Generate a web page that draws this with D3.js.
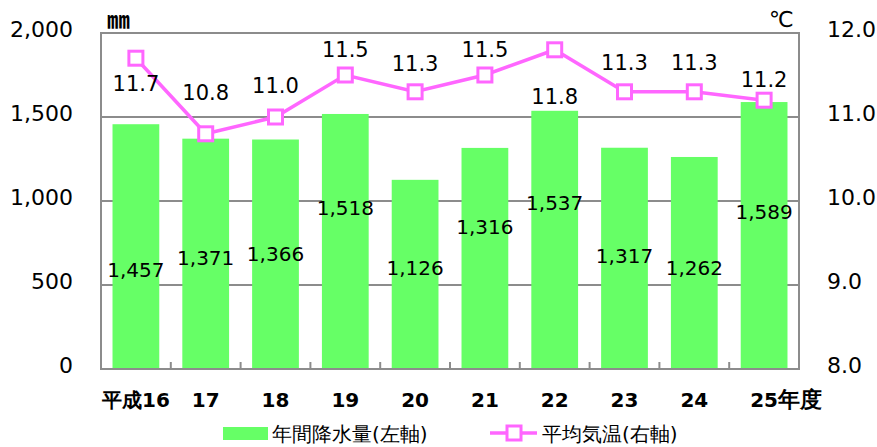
<!DOCTYPE html>
<html><head><meta charset="utf-8">
<script src="https://cdn.jsdelivr.net/npm/d3@7"></script>
<style>body{margin:0;background:#fff}svg{display:block}text{font-family:"DejaVu Sans",Verdana,sans-serif;fill:#000}</style>
</head><body><svg id="c" width="877" height="447"></svg>
<script>
const categories = ["平成16","17","18","19","20","21","22","23","24","25"];
const rainfall = [1457,1371,1366,1518,1126,1316,1537,1317,1262,1589];
const temperature = [11.7,10.8,11.0,11.5,11.3,11.5,11.8,11.3,11.3,11.2];
const leftTicks = [0,500,1000,1500,2000];
const rightTicks = [8.0,9.0,10.0,11.0,12.0];
// label anchor heights (in axis units)
const rainLabelAt = [589,661,684,958,601,845,988,673,601,935];
const tempLabelAt = [11.40,11.29,11.37,11.80,11.64,11.80,11.24,11.65,11.65,11.45];

const svg = d3.select("#c");
const L = 101, R = 799, T = 33, B = 369;
const x = d3.scaleBand().domain(categories).range([L, R]).paddingInner(0.33).paddingOuter(0.165);
const yL = d3.scaleLinear().domain([0,2000]).range([B, T]);
const yR = d3.scaleLinear().domain([8,12]).range([B, T]);
const fmt = d3.format(",");
const grey = "#8c8c8c";

// gridlines
svg.append("g").selectAll("line").data(leftTicks.slice(1,4)).join("line")
  .attr("x1", L).attr("x2", R).attr("y1", d=>yL(d)).attr("y2", d=>yL(d))
  .attr("stroke", grey).attr("stroke-width", 2);

// bars
svg.append("g").selectAll("rect").data(rainfall).join("rect")
  .attr("x", (d,i)=>x(categories[i])).attr("width", x.bandwidth())
  .attr("y", d=>yL(d)).attr("height", d=>B - yL(d)).attr("fill", "#66ff66");

// frame
svg.append("rect").attr("x", L).attr("y", T).attr("width", R-L).attr("height", B-T)
  .attr("fill","none").attr("stroke", grey).attr("stroke-width", 2);

// x axis tick marks between categories
const step = x.step();
svg.append("g").selectAll("line").data(categories.slice(1)).join("line")
  .attr("x1", d=>x(d) - x.paddingInner()*step/2).attr("x2", d=>x(d) - x.paddingInner()*step/2)
  .attr("y1", B).attr("y2", B-7).attr("stroke", grey).attr("stroke-width", 2);

// left axis
const axL = svg.append("g").attr("transform", `translate(${L},0)`)
  .call(d3.axisLeft(yL).tickValues(leftTicks).tickFormat(fmt).tickSize(0).tickPadding(28));
axL.select(".domain").remove();
axL.selectAll("text").style("font-size","22px").attr("dy","0.32em").attr("y",-4);

// right axis
const axR = svg.append("g").attr("transform", `translate(${R},0)`)
  .call(d3.axisRight(yR).tickValues(rightTicks).tickFormat(d3.format(".1f")).tickSize(0).tickPadding(28));
axR.select(".domain").remove();
axR.selectAll("text").style("font-size","22px").attr("dy","0.32em").attr("y",-4);

// category labels
svg.append("g").selectAll("text").data(categories).join("text")
  .attr("x", d=>x(d)+x.bandwidth()/2).attr("y", 407)
  .attr("text-anchor","middle").style("font-size","20px").style("font-weight","bold")
  .text(d=>d);
svg.append("text").attr("x", x("25")+x.bandwidth()/2+14).attr("y", 407)
  .style("font-size","22px").style("font-weight","bold").text("年度");

// units
svg.append("text").attr("x",107).attr("y",28).style("font-family","'Noto Sans CJK JP'").style("font-size","23px").style("font-weight","bold").text("㎜");
svg.append("text").attr("x",769).attr("y",27).style("font-size","22px").text("℃");

// bar labels
svg.append("g").selectAll("text").data(rainfall).join("text")
  .attr("x",(d,i)=>x(categories[i])+x.bandwidth()/2)
  .attr("y",(d,i)=>yL(rainLabelAt[i])).attr("dy","0.36em")
  .attr("text-anchor","middle").style("font-size","20px").text(d=>fmt(d));

// temperature line
const cx = i => x(categories[i]) + x.bandwidth()/2;
const line = d3.line().x((d,i)=>cx(i)).y(d=>yR(d));
svg.append("path").datum(temperature).attr("d", line)
  .attr("fill","none").attr("stroke","#ff66ff").attr("stroke-width",3.5);
svg.append("g").selectAll("rect").data(temperature).join("rect")
  .attr("x",(d,i)=>cx(i)-7).attr("y",d=>yR(d)-7).attr("width",14).attr("height",14)
  .attr("fill","#fff").attr("stroke","#ff66ff").attr("stroke-width",3);

// temperature labels
svg.append("g").selectAll("text").data(temperature).join("text")
  .attr("x",(d,i)=>cx(i)).attr("y",(d,i)=>yR(tempLabelAt[i])).attr("dy","0.36em")
  .attr("text-anchor","middle").style("font-size","21px").text(d=>d.toFixed(1));

// legend
const lg = svg.append("g");
lg.append("rect").attr("x",223).attr("y",427).attr("width",45).attr("height",13).attr("fill","#66ff66");
lg.append("text").attr("x",272).attr("y",441).style("font-size","20px").text("年間降水量(左軸)");
lg.append("line").attr("x1",490).attr("x2",537).attr("y1",433).attr("y2",433).attr("stroke","#ff66ff").attr("stroke-width",3.5);
lg.append("rect").attr("x",507).attr("y",426).attr("width",14).attr("height",14).attr("fill","#fff").attr("stroke","#ff66ff").attr("stroke-width",3);
lg.append("text").attr("x",542).attr("y",441).style("font-size","20px").text("平均気温(右軸)");
</script></body></html>
